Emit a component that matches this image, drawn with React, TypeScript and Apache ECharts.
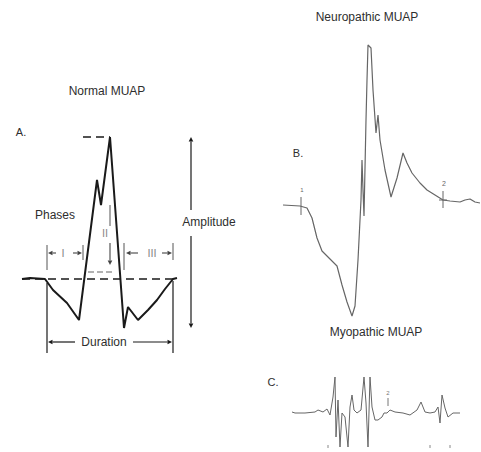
import React, { useEffect, useRef } from "react";
import * as echarts from "echarts";

// Waveform samples: [time (arbitrary units), amplitude (arbitrary units, baseline = 0)]
const normalMuap: [number, number][] = [
  [0, 0], [8, 1], [23, 0], [31, -11], [45, -24], [57, -41], [75, 99], [79, 74], [88, 142],
  [102, -49], [106, -28], [116, -41], [126, -31], [135, -21], [143, -10], [151, 0], [155, 1],
];
const normalBaseline: [number, number][] = [[0, 0], [155, 0]];
const normalPeakLevel: [number, number][] = [[61, 142], [88, 142]];
const phaseTwoLevel: [number, number][] = [[66, 7], [93, 7]];

const neuropathicMuap: [number, number][] = [
  [0, 0], [17, -1], [24, -3], [29, -13], [34, -33], [39, -46], [47, -54], [54, -61], [59, -80],
  [64, -97], [69, -111], [72, -101], [75, -55], [78, 5], [79, 45], [80, 15], [81, -11], [83, 85],
  [84, 125], [85, 160], [88, 157], [90, 115], [93, 72], [95, 90], [97, 65], [102, 35], [108, 8],
  [114, 27], [120, 52], [124, 42], [129, 32], [137, 22], [144, 15], [152, 10], [160, 5], [167, 4],
  [177, 3], [182, 5], [187, 6], [192, 3], [197, 2],
];

const myopathicMuap: [number, number][] = [
  [2, 1], [5, 0], [15, 0], [25, 1], [28, 3], [33, 1], [37, 4], [40, -2], [43, 16], [45, 36],
  [46, -24], [48, 13], [50, -34], [52, 0], [55, -4], [58, -34], [60, 6], [62, 18], [64, 3],
  [67, 0], [71, 3], [74, 36], [76, 10], [78, -34], [80, 36], [82, 6], [85, -7], [88, -7],
  [92, -4], [94, 0], [97, 0], [100, 3], [105, 1], [113, 0], [120, -2], [127, 3], [131, 11],
  [135, 1], [140, 0], [145, 1], [148, 6], [150, -10], [152, 18], [155, 5], [158, -4], [163, 0],
  [170, 0],
];

const titles = ["Normal MUAP", "Neuropathic MUAP", "Myopathic MUAP"];
const panelLabels = ["A.", "B.", "C."];
const phaseLabels = ["I", "II", "III"];
const annotationLabels = ["Phases", "Amplitude", "Duration"];
const markerLabels = ["1", "2"];

const FONT = '"Liberation Sans", Arial, sans-serif';
const TEXT = "#2e2e2e";
const INK = "#1a1a1a";
const SOFT = "#8a8a8a";

function txt(text: string, x: number, y: number, size = 12, color = TEXT, align = "center") {
  return {
    type: "text",
    x,
    y,
    style: {
      text,
      fill: color,
      font: `${size}px ${FONT}`,
      align,
      verticalAlign: "middle",
      textAlign: align,
      textVerticalAlign: "middle",
    },
  };
}

function seg(x1: number, y1: number, x2: number, y2: number, color = INK, w = 1.2, dash?: number[]) {
  return {
    type: "line",
    shape: { x1, y1, x2, y2 },
    style: { stroke: color, lineWidth: w, lineDash: dash },
  };
}

function arrow(x1: number, y1: number, x2: number, y2: number, color = INK, w = 1.2, head = 4.5, half = 2.3) {
  const dx = x2 - x1;
  const dy = y2 - y1;
  const len = Math.hypot(dx, dy);
  const ux = dx / len;
  const uy = dy / len;
  const bx = x2 - ux * head;
  const by = y2 - uy * head;
  const px = -uy * half;
  const py = ux * half;
  return [
    seg(x1, y1, bx, by, color, w),
    {
      type: "polygon",
      shape: { points: [[x2, y2], [bx + px, by + py], [bx - px, by - py]] },
      style: { fill: color },
    },
  ];
}

function hiddenAxis(gridIndex: number, min: number, max: number) {
  return {
    type: "value",
    gridIndex,
    min,
    max,
    show: false,
    splitLine: { show: false },
  };
}

export default function App() {
  const ref = useRef<HTMLDivElement>(null);

  useEffect(() => {
    if (!ref.current) return;
    const chart = echarts.init(ref.current, undefined, { renderer: "svg" });

    const graphics: any[] = [
      // titles and panel letters
      txt(titles[0], 107, 91, 12),
      txt(titles[1], 367, 17, 12),
      txt(titles[2], 376, 332, 12),
      txt(panelLabels[0], 21, 132, 11),
      txt(panelLabels[1], 298, 153, 11),
      txt(panelLabels[2], 273, 382, 11),
      // Phases
      txt(annotationLabels[0], 55, 215, 12),
      // Amplitude
      ...arrow(191, 210, 191, 137),
      ...arrow(191, 236, 191, 328),
      txt(annotationLabels[1], 209, 222, 12),
      // Phase I
      seg(47, 245, 47, 270, "#555", 1),
      seg(47, 283, 47, 353),
      seg(83, 245, 83, 260, "#555", 1),
      ...arrow(56, 253, 48, 253, "#444", 1.1),
      txt(phaseLabels[0], 63, 253, 11, SOFT),
      ...arrow(73, 253, 82, 253, "#444", 1.1),
      // Phase II
      txt(phaseLabels[1], 105, 233, 11, SOFT),
      seg(110, 205, 110, 226, "#555", 1),
      ...arrow(110, 243, 110, 265, "#444", 1.1),
      // Phase III
      seg(124, 243, 124, 270, "#555", 1),
      seg(173, 243, 173, 260, "#555", 1),
      seg(173, 281, 173, 353),
      ...arrow(138, 253, 126, 253, "#444", 1.1),
      txt(phaseLabels[2], 152, 253, 11, SOFT),
      ...arrow(162, 253, 172, 253, "#444", 1.1),
      // Duration
      ...arrow(75, 342, 48, 342),
      txt(annotationLabels[2], 104, 342, 12),
      ...arrow(133, 342, 172, 342),
      // Neuropathic markers
      seg(301, 197, 301, 215, "#666", 1),
      txt(markerLabels[0], 302, 190, 6, "#666"),
      seg(443, 191, 443, 208, "#666", 1),
      seg(439, 200, 447, 200, "#666", 1),
      txt(markerLabels[1], 444, 183, 7, "#666"),
      // Myopathic markers
      txt(markerLabels[1], 388, 393, 6, "#777"),
      seg(388, 398, 388, 406, "#777", 1),
      seg(328, 445, 328, 448, "#888", 1),
      seg(430, 445, 430, 448, "#888", 1),
      seg(450, 445, 450, 448, "#888", 1),
    ];

    const option: any = {
      animation: false,
      backgroundColor: "#ffffff",
      grid: [
        { left: 22, top: 130, width: 155, height: 200 },
        { left: 283, top: 40, width: 197, height: 280 },
        { left: 290, top: 370, width: 172, height: 80 },
      ],
      xAxis: [hiddenAxis(0, 0, 155), hiddenAxis(1, 0, 197), hiddenAxis(2, 0, 172)],
      yAxis: [hiddenAxis(0, -51, 149), hiddenAxis(1, -115, 165), hiddenAxis(2, -37, 43)],
      series: [
        {
          type: "line",
          xAxisIndex: 0,
          yAxisIndex: 0,
          data: normalBaseline,
          showSymbol: false,
          lineStyle: { color: INK, width: 1.5, type: [8, 5] },
          z: 1,
        },
        {
          type: "line",
          xAxisIndex: 0,
          yAxisIndex: 0,
          data: normalPeakLevel,
          showSymbol: false,
          lineStyle: { color: INK, width: 1.5, type: [8, 5] },
        },
        {
          type: "line",
          xAxisIndex: 0,
          yAxisIndex: 0,
          data: phaseTwoLevel,
          showSymbol: false,
          lineStyle: { color: "#999", width: 1.5, type: [6, 3] },
        },
        {
          type: "line",
          xAxisIndex: 0,
          yAxisIndex: 0,
          data: normalMuap,
          showSymbol: false,
          lineStyle: { color: INK, width: 2 },
          z: 3,
        },
        {
          type: "line",
          xAxisIndex: 1,
          yAxisIndex: 1,
          data: neuropathicMuap,
          showSymbol: false,
          lineStyle: { color: "#666", width: 1.2 },
        },
        {
          type: "line",
          xAxisIndex: 2,
          yAxisIndex: 2,
          data: myopathicMuap,
          showSymbol: false,
          lineStyle: { color: "#666", width: 1 },
        },
      ],
      graphic: { elements: graphics },
    };

    chart.setOption(option);
    return () => chart.dispose();
  }, []);

  return (
    <div
      ref={ref}
      style={{ position: "fixed", left: 0, top: 0, width: 481, height: 452, background: "#fff" }}
    />
  );
}
